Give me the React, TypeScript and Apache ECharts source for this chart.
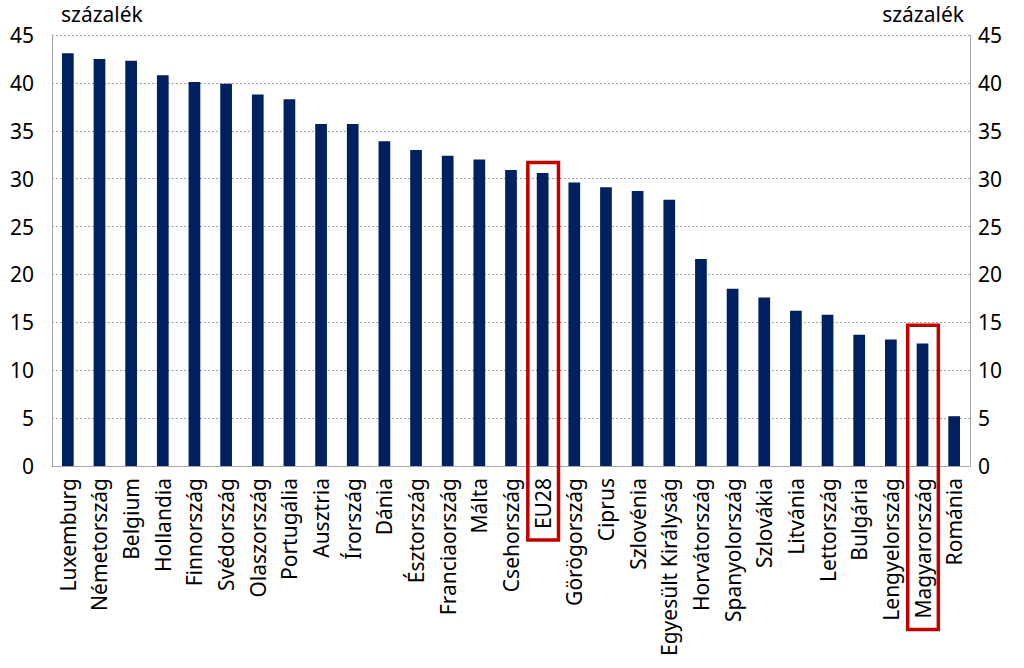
import React, { useEffect, useRef } from "react";
import * as echarts from "echarts";

const categories = [
  "Luxemburg", "Németország", "Belgium", "Hollandia", "Finnország", "Svédország",
  "Olaszország", "Portugália", "Ausztria", "Írország", "Dánia", "Észtország",
  "Franciaország", "Málta", "Csehország", "EU28", "Görögország", "Ciprus",
  "Szlovénia", "Egyesült Királyság", "Horvátország", "Spanyolország", "Szlovákia",
  "Litvánia", "Lettország", "Bulgária", "Lengyelország", "Magyarország", "Románia",
];
const values = [
  43.1, 42.5, 42.3, 40.8, 40.1, 39.9, 38.8, 38.3, 35.7, 35.7, 33.9, 33.0, 32.4, 32.0,
  30.9, 30.6, 29.6, 29.1, 28.7, 27.8, 21.6, 18.5, 17.6, 16.2, 15.8, 13.7, 13.2, 12.8, 5.2,
];
const highlighted = ["EU28", "Magyarország"];
const highlightTops = [31.7, 14.7];
const yTicks = [0, 5, 10, 15, 20, 25, 30, 35, 40, 45];
const unitLabel = "százalék";

const FONT = "'Noto Sans', sans-serif";
const LABEL_SIZE = 21;
const LABEL_MARGIN = 12;
const TICK_SIZE = 21;

export default function App() {
  const ref = useRef<HTMLDivElement>(null);
  useEffect(() => {
    if (!ref.current) return;
    const chart = echarts.init(ref.current, undefined, { renderer: "svg" });
    const yAxisCommon = {
      type: "value" as const,
      min: yTicks[0],
      max: yTicks[yTicks.length - 1],
      interval: yTicks[1] - yTicks[0],
      axisLine: { show: true, lineStyle: { color: "#a6a6a6", width: 1 } },
      axisTick: { show: false },
      axisLabel: { color: "#000", fontSize: TICK_SIZE, fontFamily: FONT },
    };
    chart.setOption({
      animation: false,
      grid: { left: 52, right: 54, top: 35, bottom: 202, containLabel: false },
      xAxis: {
        type: "category",
        data: categories,
        axisLine: { show: true, lineStyle: { color: "#a6a6a6" } },
        axisTick: { show: false },
        axisLabel: {
          rotate: 90,
          interval: 0,
          margin: LABEL_MARGIN,
          color: "#000",
          fontSize: LABEL_SIZE,
          fontFamily: FONT,
        },
      },
      yAxis: [
        {
          ...yAxisCommon,
          position: "left",
          axisLabel: { ...yAxisCommon.axisLabel, margin: 18 },
          splitLine: { show: true, lineStyle: { color: "#a0a0a0", type: [2, 2], width: 1 } },
        },
        {
          ...yAxisCommon,
          position: "right",
          axisLabel: { ...yAxisCommon.axisLabel, margin: 8 },
          splitLine: { show: false },
        },
      ],
      series: [
        {
          type: "bar",
          data: values,
          barWidth: "37%",
          itemStyle: { color: "#00205f" },
          yAxisIndex: 0,
        },
      ],
    });

    const canvas = document.createElement("canvas");
    const ctx = canvas.getContext("2d")!;
    ctx.font = `${LABEL_SIZE}px ${FONT}`;
    const x0 = chart.convertToPixel({ xAxisIndex: 0 }, categories[0]) as number;
    const x1 = chart.convertToPixel({ xAxisIndex: 0 }, categories[1]) as number;
    const slot = x1 - x0;
    const baseY = chart.convertToPixel({ yAxisIndex: 0 }, 0) as number;
    const graphics: any[] = [];
    highlighted.forEach((cat, i) => {
      const cx = chart.convertToPixel({ xAxisIndex: 0 }, cat) as number;
      const topY = chart.convertToPixel({ yAxisIndex: 0 }, highlightTops[i]) as number;
      const textLen = ctx.measureText(cat).width;
      const bottomY = baseY + LABEL_MARGIN + textLen + 11;
      graphics.push({
        type: "rect",
        shape: { x: cx - slot / 2 + 1, y: topY, width: slot - 1, height: bottomY - topY },
        style: { fill: "none", stroke: "#c00000", lineWidth: 3.5 },
        z: 10,
      });
    });
    graphics.push({
      type: "text",
      left: 61,
      top: 3,
      style: { text: unitLabel, fontSize: TICK_SIZE, fontFamily: FONT, fill: "#000" },
    });
    graphics.push({
      type: "text",
      right: 60,
      top: 3,
      style: { text: unitLabel, fontSize: TICK_SIZE, fontFamily: FONT, fill: "#000" },
    });
    chart.setOption({ graphic: graphics });
    return () => chart.dispose();
  }, []);
  return (
    <div
      ref={ref}
      style={{ position: "absolute", left: 0, top: 0, width: 1024, height: 668, background: "#fff" }}
    />
  );
}
